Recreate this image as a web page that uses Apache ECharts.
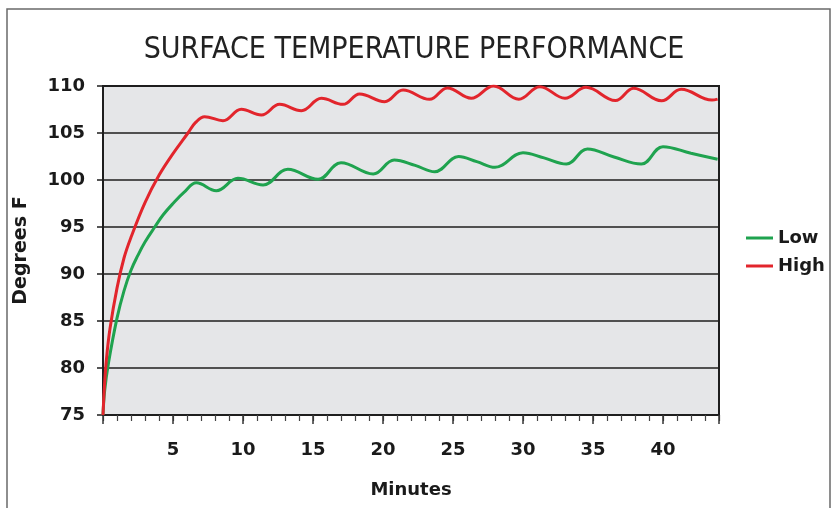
<!DOCTYPE html>
<html>
<head>
<meta charset="utf-8">
<script src="https://cdn.jsdelivr.net/npm/echarts@6/dist/echarts.min.js"></script>
<style>html,body{margin:0;padding:0;background:#fff;}#c{width:838px;height:508px;}</style>
</head>
<body>
<div id="c"></div>
<script>
// Data
var lowMinutes = [0, 0.12, 0.4, 1.0, 1.5, 2.0, 2.5, 3.0, 3.7, 4.3, 5.0, 5.8, 6.67, 8.09, 9.64, 11.43, 13.2, 15.36, 17.0, 19.3, 20.8, 22.3, 23.7, 25.4, 26.7, 28.0, 30.0, 31.5, 33.1, 34.6, 36.5, 38.45, 40.0, 42.0, 43.9];
var lowValues  = [75, 77.6, 80.6, 85.3, 88.2, 90.4, 92.0, 93.4, 95, 96.3, 97.5, 98.7, 99.7, 98.86, 100.18, 99.47, 101.14, 100.07, 101.84, 100.64, 102.13, 101.55, 100.88, 102.5, 101.95, 101.35, 102.9, 102.35, 101.7, 103.3, 102.45, 101.7, 103.55, 102.84, 102.2];

var highMinutes = [0, 0.1, 0.25, 0.5, 1.0, 1.5, 2.0, 3.0, 4.0, 5.0, 6.07, 6.6, 7.26, 8.57, 9.88, 11.31, 12.62, 14.17, 15.6, 17.14, 18.33, 20.12, 21.43, 23.33, 24.6, 26.3, 27.9, 29.7, 31.2, 33.0, 34.5, 36.6, 37.9, 39.9, 41.3, 43.5, 43.9];
var highValues  = [75, 78, 81, 84.2, 88.5, 91.7, 93.9, 97.6, 100.5, 102.8, 105, 106.1, 106.74, 106.31, 107.52, 106.91, 108.05, 107.37, 108.69, 108.05, 109.15, 108.33, 109.57, 108.58, 109.8, 108.7, 110.0, 108.6, 109.93, 108.7, 109.86, 108.45, 109.75, 108.42, 109.65, 108.5, 108.6];

var yTicks = { min: 75, max: 110, step: 5 };
var xTicks = { min: 0, max: 44, step: 5, minorStep: 1 };
var seriesNames = ['Low', 'High'];

function pairs(xs, ys) { return xs.map(function (x, i) { return [x, ys[i]]; }); }

var boldFont = 'DejaVu Sans';
var chart = echarts.init(document.getElementById('c'), null, { renderer: 'canvas' });
chart.setOption({
  animation: false,
  backgroundColor: '#ffffff',
  graphic: [{
    type: 'rect', silent: true, z: 0,
    shape: { x: 7, y: 9, width: 823, height: 520 },
    style: { fill: 'none', stroke: '#6a6a6a', lineWidth: 1.5 }
  }],
  title: {
    text: 'SURFACE TEMPERATURE PERFORMANCE',
    left: 409, top: 30, textAlign: 'center',
    textStyle: { fontFamily: '"Liberation Sans Narrow", "DejaVu Sans Condensed", sans-serif', fontWeight: 'normal', fontSize: 30, color: '#222' }
  },
  legend: {
    data: seriesNames,
    orient: 'vertical', left: 741, top: 224, itemGap: 10,
    icon: 'rect', itemWidth: 27, itemHeight: 3,
    textStyle: { fontFamily: boldFont, fontWeight: 'bold', fontSize: 18, color: '#1a1a1a' }
  },
  grid: {
    left: 103, top: 86, right: 119, bottom: 93,
    show: true, backgroundColor: '#e5e6e8', borderColor: '#1e1e1e', borderWidth: 2
  },
  xAxis: [{
    type: 'value', gridIndex: 0, position: 'bottom', min: xTicks.min, max: xTicks.max, interval: xTicks.minorStep,
    axisLine: { show: true, onZero: false, lineStyle: { color: '#1e1e1e', width: 2 } },
    axisTick: { show: true, length: 6, lineStyle: { color: '#444', width: 1.2 } },
    axisLabel: { show: false },
    splitLine: { show: false }
  }, {
    type: 'value', gridIndex: 0, position: 'bottom', offset: 0, min: xTicks.min, max: xTicks.max, interval: xTicks.step,
    name: 'Minutes', nameLocation: 'middle', nameGap: 66,
    nameTextStyle: { fontFamily: boldFont, fontWeight: 'bold', fontSize: 18, color: '#1a1a1a' },
    axisLine: { show: true, onZero: false, lineStyle: { color: '#1e1e1e', width: 2 } },
    axisTick: { show: true, length: 9, lineStyle: { color: '#333', width: 1.5 } },
    axisLabel: {
      margin: 26, fontFamily: boldFont, fontWeight: 'bold', fontSize: 18, color: '#1a1a1a',
      formatter: function (v) { return (v > 0 && v % 5 === 0) ? String(v) : ''; }
    },
    splitLine: { show: false }
  }],
  yAxis: {
    type: 'value', min: yTicks.min, max: yTicks.max, interval: yTicks.step,
    name: 'Degrees F', nameLocation: 'middle', nameGap: 72, nameRotate: 90,
    nameTextStyle: { fontFamily: boldFont, fontWeight: 'bold', fontSize: 19, color: '#1a1a1a' },
    axisLine: { show: true, lineStyle: { color: '#1e1e1e', width: 2 } },
    axisTick: { show: true, length: 6, lineStyle: { color: '#1e1e1e', width: 1.5 } },
    axisLabel: { margin: 18, fontFamily: boldFont, fontWeight: 'bold', fontSize: 18, color: '#1a1a1a' },
    splitLine: { show: true, lineStyle: { color: '#1e1e1e', width: 1.5 } }
  },
  series: [{
    name: 'Low', type: 'line', xAxisIndex: 0, data: pairs(lowMinutes, lowValues),
    smooth: 0.4, showSymbol: false, symbol: 'none',
    lineStyle: { color: '#1fa34f', width: 3 }, itemStyle: { color: '#1fa34f' }
  }, {
    name: 'High', type: 'line', xAxisIndex: 1, data: pairs(highMinutes, highValues),
    smooth: 0.4, showSymbol: false, symbol: 'none',
    lineStyle: { color: '#e2252c', width: 3 }, itemStyle: { color: '#e2252c' }
  }]
});
</script>
</body>
</html>
